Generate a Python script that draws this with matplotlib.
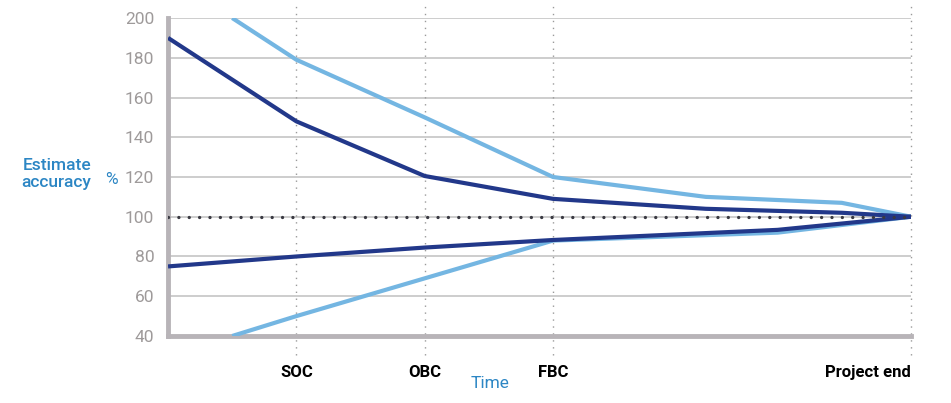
import numpy as np
import matplotlib.pyplot as plt

# etapas no eixo do tempo
stage_labels = ['SOC', 'OBC', 'FBC', 'Project end']
stage_x = [1.0, 2.0, 3.0, 5.79]

# curvas (x, valor %)
light_upper_x = [0.5, 1.0, 2.0, 3.0, 4.19, 5.25, 5.79]
light_upper_y = [200, 179, 150, 120, 110, 107, 100]

dark_upper_x = [0.0, 1.0, 2.0, 3.0, 4.19, 5.25, 5.79]
dark_upper_y = [190, 148, 120.5, 109, 104, 102, 100]

dark_lower_x = [0.0, 1.0, 2.0, 3.0, 4.75, 5.79]
dark_lower_y = [75, 80, 84.5, 88.3, 93.4, 100]

light_lower_x = [0.5, 1.0, 2.0, 3.0, 4.75, 5.79]
light_lower_y = [40, 50, 69, 88, 92, 100]

y_ticks = [40, 60, 80, 100, 120, 140, 160, 180, 200]

LIGHT = '#74b6e2'
DARK = '#22388a'
BLUE_TXT = '#2c86c4'
SPINE = '#b8b4b8'

plt.rcParams['font.family'] = ['Roboto', 'DejaVu Sans']

fig = plt.figure(figsize=(9.51, 4.03), dpi=100)
ax = fig.add_axes([0.1767, 0.1663, 0.958 - 0.1767, 0.9553 - 0.1663])

ax.set_xlim(0, 5.79)
ax.set_ylim(40, 200)

# grelha horizontal
for v in y_ticks[1:]:
    ax.axhline(v, color='#c9c9c9', lw=1.3, zorder=1)

# linhas verticais pontilhadas
for xv in stage_x:
    ax.axvline(xv, ymin=-0.06, ymax=1.047, color='#9a9a9a', lw=1.0,
               ls=(0, (1, 4)), clip_on=False, zorder=1)

ax.plot(light_upper_x, light_upper_y, color=LIGHT, lw=3, zorder=3, solid_capstyle='butt')
ax.plot(light_lower_x, light_lower_y, color=LIGHT, lw=3, zorder=3, solid_capstyle='butt')
ax.plot(dark_upper_x, dark_upper_y, color=DARK, lw=3, zorder=4, solid_capstyle='butt')
ax.plot(dark_lower_x, dark_lower_y, color=DARK, lw=3, zorder=4, solid_capstyle='butt')

# linha de 100%
ax.plot([0, 5.79], [100, 100], color='#3a3a42', lw=2.4, ls=(0, (0.01, 3.1)),
        dash_capstyle='round', zorder=5)

for s in ['top', 'right']:
    ax.spines[s].set_visible(False)
for s in ['left', 'bottom']:
    ax.spines[s].set_color(SPINE)
    ax.spines[s].set_linewidth(3.5)

ax.set_yticks(y_ticks)
ax.tick_params(axis='y', length=0, pad=10, labelsize=12.5, labelcolor='#9e9a9a')
ax.set_xticks([])

for lab, xv in zip(stage_labels, stage_x):
    ha = 'right' if lab == 'Project end' else 'center'
    ax.text(xv, -0.115, lab, transform=ax.get_xaxis_transform(), ha=ha, va='center',
            fontsize=12, fontweight='bold', color='black')

fig.text(490 / 951, 1 - 384 / 403, 'Time', ha='center', va='center',
         fontsize=12.5, color=BLUE_TXT)
fig.text(91 / 951, 1 - 174 / 403, 'Estimate\naccuracy', ha='right', va='center',
         fontsize=12.5, color=BLUE_TXT, fontweight='medium', linespacing=1.1)
fig.text(111 / 951, 1 - 179 / 403, '%', ha='center', va='center',
         fontsize=12.5, color=BLUE_TXT)

fig.savefig('out.png', dpi=100)
